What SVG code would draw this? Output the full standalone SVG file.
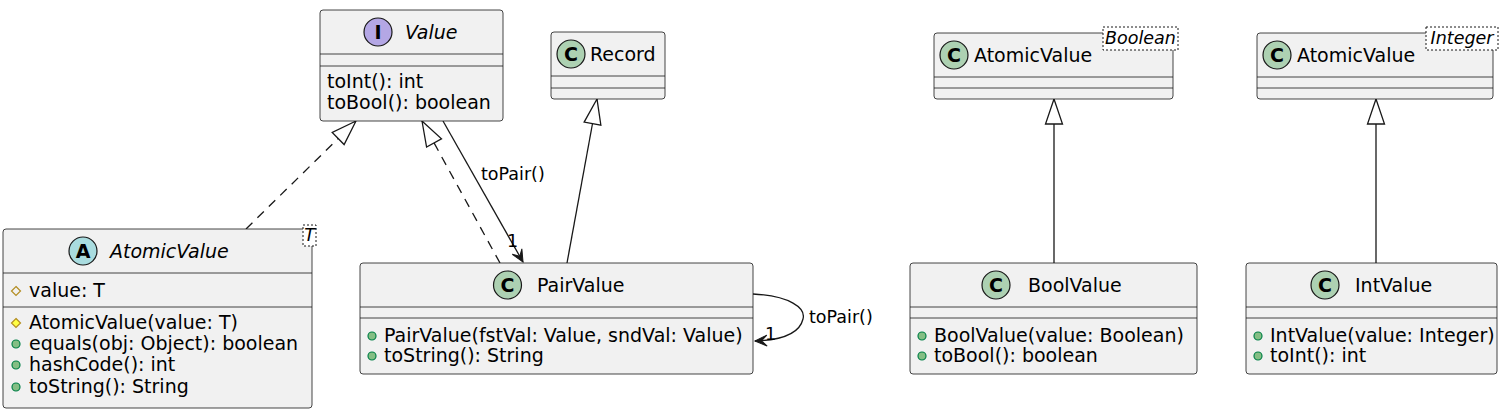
<svg xmlns="http://www.w3.org/2000/svg" width="1504" height="418" viewBox="0 0 1504 418">
<style>
.box{fill:#F1F1F1;stroke:#181818;stroke-width:0.8}
.sep{stroke:#181818;stroke-width:0.8}
.t{font-family:"DejaVu Sans","Liberation Sans",sans-serif;font-size:19px;fill:#000}
.i{font-style:italic}
.lbl{font-family:"DejaVu Sans","Liberation Sans",sans-serif;font-size:17.5px;fill:#000}
.gen{font-family:"DejaVu Sans","Liberation Sans",sans-serif;font-size:17.5px;font-style:italic;fill:#000;text-anchor:middle}
.genbox{fill:#FFFFFF;stroke:#181818;stroke-width:1;stroke-dasharray:2,2}
.ic{stroke:#181818;stroke-width:1.2}
.cls{fill:#ADD1B2}
.abs{fill:#A9DCDF}
.itf{fill:#B4A7E5}
.ch{font-family:"DejaVu Sans","Liberation Sans",sans-serif;font-size:19px;font-weight:bold;fill:#000;text-anchor:middle}
.pub{fill:#84BE84;stroke:#038048;stroke-width:1.2}
.prf{fill:none;stroke:#B38D22;stroke-width:1.2}
.prm{fill:#FFFF44;stroke:#B38D22;stroke-width:1.2}
.edge{fill:none;stroke:#181818;stroke-width:1.3}
.dash{stroke-dasharray:9,7}
</style>
<defs>
<marker id="tri" markerUnits="userSpaceOnUse" viewBox="-28 -10 30 20" markerWidth="30" markerHeight="20" refX="0" refY="0" orient="auto">
<path d="M0,0 L-25,-8.5 L-25,8.5 Z" fill="#FFFFFF" stroke="#181818" stroke-width="1.3"/>
</marker>
<marker id="arr" markerUnits="userSpaceOnUse" viewBox="-15 -8 17 16" markerWidth="17" markerHeight="16" refX="0" refY="0" orient="auto">
<path d="M0,0 L-12,-5.5 L-6.5,0 L-12,5.5 Z" fill="#181818" stroke="#181818" stroke-width="1"/>
</marker>
</defs>

<g id="connectors">
<path class="edge dash" d="M246,229 L356,121" marker-end="url(#tri)"/>
<path class="edge dash" d="M500,263 L422,121" marker-end="url(#tri)"/>
<path class="edge" d="M443,121 L523,262" marker-end="url(#arr)"/>
<text class="lbl" x="481" y="180">toPair()</text>
<text class="lbl" x="507" y="247">1</text>
<path class="edge" d="M567,263 L597,99" marker-end="url(#tri)"/>
<path class="edge" d="M1054,263 L1054,99" marker-end="url(#tri)"/>
<path class="edge" d="M1376,263 L1376,99" marker-end="url(#tri)"/>
<path class="edge" d="M753,294 C790,296 806,308 803,319 C800,332 785,340 755,341" marker-end="url(#arr)"/>
<text class="lbl" x="809" y="323">toPair()</text>
<text class="lbl" x="765" y="340">1</text>
</g>

<g id="value">
<rect class="box" x="320" y="10" width="183" height="111" rx="3"/>
<line class="sep" x1="320" y1="54" x2="503" y2="54"/>
<line class="sep" x1="320" y1="66" x2="503" y2="66"/>
<circle class="ic itf" cx="378" cy="32" r="14"/>
<text class="ch" x="378" y="39">I</text>
<text class="t i" x="405" y="39">Value</text>
<text class="t" x="327" y="88">toInt(): int</text>
<text class="t" x="327" y="109">toBool(): boolean</text>
</g>

<g id="record">
<rect class="box" x="551" y="32" width="114" height="67" rx="3"/>
<line class="sep" x1="551" y1="76" x2="665" y2="76"/>
<line class="sep" x1="551" y1="88" x2="665" y2="88"/>
<circle class="ic cls" cx="571" cy="54" r="14"/>
<text class="ch" x="571" y="61">C</text>
<text class="t" x="590" y="61">Record</text>
</g>

<g id="atomicvalue-boolean">
<rect class="box" x="934" y="33" width="239" height="66" rx="3"/>
<line class="sep" x1="934" y1="77" x2="1173" y2="77"/>
<line class="sep" x1="934" y1="88" x2="1173" y2="88"/>
<circle class="ic cls" cx="954" cy="55" r="14"/>
<text class="ch" x="954" y="62">C</text>
<text class="t" x="974" y="62">AtomicValue</text>
<rect class="genbox" x="1103" y="27" width="75" height="23"/>
<text class="gen" x="1140.5" y="44">Boolean</text>
</g>

<g id="atomicvalue-integer">
<rect class="box" x="1257" y="33" width="236" height="66" rx="3"/>
<line class="sep" x1="1257" y1="77" x2="1493" y2="77"/>
<line class="sep" x1="1257" y1="88" x2="1493" y2="88"/>
<circle class="ic cls" cx="1277" cy="55" r="14"/>
<text class="ch" x="1277" y="62">C</text>
<text class="t" x="1297" y="62">AtomicValue</text>
<rect class="genbox" x="1426" y="27" width="72" height="23"/>
<text class="gen" x="1462" y="44">Integer</text>
</g>

<g id="atomicvalue">
<rect class="box" x="3" y="229" width="309" height="179" rx="3"/>
<line class="sep" x1="3" y1="273" x2="312" y2="273"/>
<line class="sep" x1="3" y1="307" x2="312" y2="307"/>
<circle class="ic abs" cx="83" cy="251" r="14"/>
<text class="ch" x="83" y="258">A</text>
<text class="t i" x="110" y="258">AtomicValue</text>
<rect class="genbox" x="303" y="225" width="13" height="21"/>
<text class="gen" x="309.5" y="241">T</text>
<path class="prf" d="M16,286.5 L20.5,291 L16,295.5 L11.5,291 Z"/>
<text class="t" x="29" y="297">value: T</text>
<path class="prm" d="M16,318.5 L20.5,323 L16,327.5 L11.5,323 Z"/>
<text class="t" x="29" y="329">AtomicValue(value: T)</text>
<circle class="pub" cx="16" cy="344" r="4"/>
<text class="t" x="29" y="350">equals(obj: Object): boolean</text>
<circle class="pub" cx="16" cy="365" r="4"/>
<text class="t" x="29" y="371">hashCode(): int</text>
<circle class="pub" cx="16" cy="387" r="4"/>
<text class="t" x="29" y="393">toString(): String</text>
</g>

<g id="pairvalue">
<rect class="box" x="360" y="263" width="393" height="111" rx="3"/>
<line class="sep" x1="360" y1="307" x2="753" y2="307"/>
<line class="sep" x1="360" y1="318" x2="753" y2="318"/>
<circle class="ic cls" cx="507.5" cy="285" r="14"/>
<text class="ch" x="507.5" y="292">C</text>
<text class="t" x="537" y="292">PairValue</text>
<circle class="pub" cx="372" cy="336" r="4"/>
<text class="t" x="384" y="342">PairValue(fstVal: Value, sndVal: Value)</text>
<circle class="pub" cx="372" cy="356" r="4"/>
<text class="t" x="384" y="362">toString(): String</text>
</g>

<g id="boolvalue">
<rect class="box" x="910" y="263" width="287" height="111" rx="3"/>
<line class="sep" x1="910" y1="307" x2="1197" y2="307"/>
<line class="sep" x1="910" y1="318" x2="1197" y2="318"/>
<circle class="ic cls" cx="996" cy="285" r="14"/>
<text class="ch" x="996" y="292">C</text>
<text class="t" x="1028" y="292">BoolValue</text>
<circle class="pub" cx="922" cy="336" r="4"/>
<text class="t" x="934" y="342">BoolValue(value: Boolean)</text>
<circle class="pub" cx="922" cy="356" r="4"/>
<text class="t" x="934" y="362">toBool(): boolean</text>
</g>

<g id="intvalue">
<rect class="box" x="1246" y="263" width="251" height="111" rx="3"/>
<line class="sep" x1="1246" y1="307" x2="1497" y2="307"/>
<line class="sep" x1="1246" y1="318" x2="1497" y2="318"/>
<circle class="ic cls" cx="1325" cy="285" r="14"/>
<text class="ch" x="1325" y="292">C</text>
<text class="t" x="1355" y="292">IntValue</text>
<circle class="pub" cx="1258" cy="336" r="4"/>
<text class="t" x="1270" y="342">IntValue(value: Integer)</text>
<circle class="pub" cx="1258" cy="356" r="4"/>
<text class="t" x="1270" y="362">toInt(): int</text>
</g>
</svg>
